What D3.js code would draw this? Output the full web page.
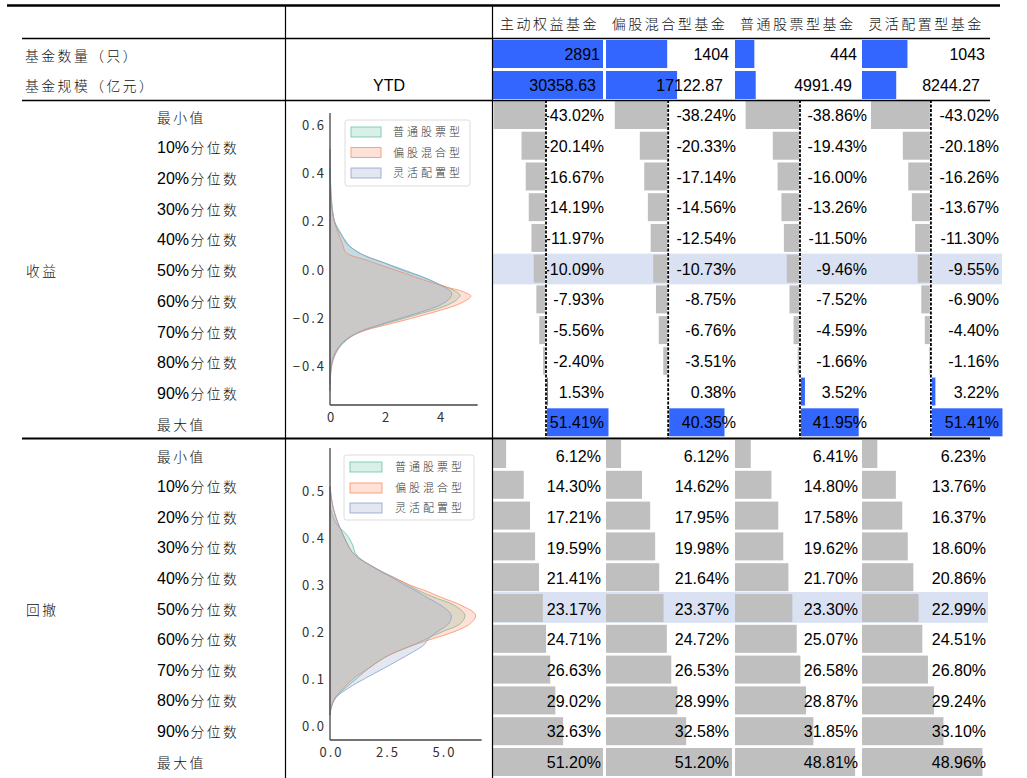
<!DOCTYPE html>
<html><head><meta charset="utf-8">
<script src="https://cdn.jsdelivr.net/npm/d3@7/dist/d3.min.js"></script>
<style>body{margin:0;background:#fff}svg{display:block}</style>
</head><body>
<svg id="c" width="1027" height="778"></svg>
<script>
// ---------------- DATA ----------------
const columns = ["主动权益基金", "偏股混合型基金", "普通股票型基金", "灵活配置型基金"];
const fundCount = [2891, 1404, 444, 1043];
const fundSize = [30358.63, 17122.87, 4991.49, 8244.27];
const statLabels = ["最小值", "10%分位数", "20%分位数", "30%分位数", "40%分位数", "50%分位数",
                    "60%分位数", "70%分位数", "80%分位数", "90%分位数", "最大值"];
const returnActive = [-43.02, -20.14, -16.67, -14.19, -11.97, -10.09, -7.93, -5.56, -2.40, 1.53, 51.41];
const returnMixed  = [-38.24, -20.33, -17.14, -14.56, -12.54, -10.73, -8.75, -6.76, -3.51, 0.38, 40.35];
const returnStock  = [-38.86, -19.43, -16.00, -13.26, -11.50, -9.46, -7.52, -4.59, -1.66, 3.52, 41.95];
const returnFlex   = [-43.02, -20.18, -16.26, -13.67, -11.30, -9.55, -6.90, -4.40, -1.16, 3.22, 51.41];
const ddActive = [6.12, 14.30, 17.21, 19.59, 21.41, 23.17, 24.71, 26.63, 29.02, 32.63, 51.20];
const ddMixed  = [6.12, 14.62, 17.95, 19.98, 21.64, 23.37, 24.72, 26.53, 28.99, 32.58, 51.20];
const ddStock  = [6.41, 14.80, 17.58, 19.62, 21.70, 23.30, 25.07, 26.58, 28.87, 31.85, 48.81];
const ddFlex   = [6.23, 13.76, 16.37, 18.60, 20.86, 22.99, 24.51, 26.80, 29.24, 33.10, 48.96];
const kdeNames = ["普通股票型", "偏股混合型", "灵活配置型"];
// density curves: [value, density]
const retKdeStock = [[0.42,0],[0.36,0.02],[0.30,0.05],[0.25,0.09],[0.20,0.17],[0.152,0.4],[0.11,0.6],[0.083,0.9],[0.055,1.33],[0.028,2.0],[0,2.6],[-0.028,3.33],[-0.055,3.88],[-0.083,4.48],[-0.104,4.73],[-0.124,4.6],[-0.152,4.12],[-0.179,3.33],[-0.207,2.48],[-0.235,1.64],[-0.262,0.97],[-0.29,0.55],[-0.331,0.24],[-0.373,0.08],[-0.428,0.02],[-0.47,0]];
const retKdeMixed = [[0.33,0],[0.25,0.08],[0.193,0.18],[0.152,0.3],[0.11,0.45],[0.076,0.55],[0.062,0.73],[0.041,1.33],[0.014,2.0],[-0.014,2.73],[-0.041,3.4],[-0.069,4.18],[-0.09,4.85],[-0.108,5.12],[-0.124,4.97],[-0.145,4.6],[-0.173,3.82],[-0.2,2.97],[-0.228,2.0],[-0.255,1.15],[-0.283,0.67],[-0.324,0.3],[-0.373,0.1],[-0.442,0.01],[-0.47,0]];
const retKdeFlex = [[0.5,0],[0.455,0.005],[0.36,0.02],[0.25,0.08],[0.193,0.18],[0.152,0.36],[0.124,0.55],[0.097,0.73],[0.069,1.09],[0.041,1.7],[0.014,2.36],[-0.014,3.03],[-0.041,3.64],[-0.069,4.12],[-0.094,4.42],[-0.117,4.36],[-0.145,4.0],[-0.173,3.33],[-0.2,2.55],[-0.228,1.76],[-0.255,1.09],[-0.29,0.6],[-0.331,0.28],[-0.386,0.08],[-0.455,0.01],[-0.5,0]];
const ddKdeStock = [[0.47,0],[0.45,0.1],[0.43,0.3],[0.407,0.75],[0.386,1.0],[0.368,1.12],[0.357,1.33],[0.343,1.78],[0.329,2.3],[0.315,2.9],[0.3,3.48],[0.287,4.0],[0.272,4.74],[0.258,5.48],[0.237,5.97],[0.219,5.78],[0.201,4.96],[0.187,4.3],[0.173,3.7],[0.159,2.96],[0.145,2.37],[0.123,1.7],[0.102,1.19],[0.081,0.67],[0.06,0.22],[0.038,0.04],[0.024,0]];
const ddKdeMixed = [[0.51,0],[0.47,0.12],[0.435,0.33],[0.414,0.52],[0.39,0.75],[0.372,0.96],[0.357,1.3],[0.343,1.78],[0.329,2.3],[0.315,2.9],[0.3,3.56],[0.287,4.3],[0.272,5.04],[0.258,5.78],[0.237,6.44],[0.219,6.22],[0.201,5.48],[0.187,4.59],[0.173,3.7],[0.159,2.96],[0.145,2.37],[0.123,1.7],[0.102,1.04],[0.081,0.59],[0.06,0.22],[0.038,0.04],[0.024,0]];
const ddKdeFlex = [[0.51,0],[0.47,0.12],[0.435,0.33],[0.414,0.52],[0.39,0.75],[0.372,0.96],[0.357,1.3],[0.343,1.75],[0.329,2.25],[0.315,2.8],[0.3,3.33],[0.287,3.85],[0.272,4.37],[0.258,4.89],[0.237,5.36],[0.219,5.26],[0.201,4.74],[0.187,4.37],[0.173,4.15],[0.159,3.7],[0.145,3.19],[0.123,2.37],[0.102,1.56],[0.081,0.81],[0.06,0.25],[0.038,0.05],[0.024,0]];
const retTicksY = [-0.4, -0.2, 0.0, 0.2, 0.4, 0.6];
const retTicksX = [0, 2, 4];
const ddTicksY = [0.0, 0.1, 0.2, 0.3, 0.4, 0.5];
const ddTicksX = [0.0, 2.5, 5.0];

// ---------------- LAYOUT / STYLE ----------------
const W = 1027, H = 778;
const CJK = "'Noto Sans CJK SC','Noto Sans',sans-serif";
const NUM = "'Liberation Sans',Arial,Helvetica,sans-serif";
const BLUE = "#3366ff", GRAY = "#bfbfbf", HIL = "#d9e1f2";
const kdeColors = ["#66c2a5", "#fc8d62", "#8da0cb"];
const colStart = [493, 606, 735, 862];
const colW = [110, 126, 126, 126];
const headX = [500, 611.7, 740, 868.3];
const countEnd = [600, 729, 857, 985];
const sizeEnd = [596, 723, 852, 980];
const retRange = [[493.7, 608.5], [614.8, 724.5], [745.6, 858.7], [871, 1002.5]];
const retEnd = [604, 736, 867, 999];
const ddEnd = [601, 729, 858, 986];
const retTop = 100, retRowH = 30.73;
const ddTop = 438, ddRowH = 30.8;

const svg = d3.select("#c");
svg.append("rect").attr("width", W).attr("height", H).attr("fill", "#fff");

function cjk(g, x, y, s, opts = {}) {
  return g.append("text").attr("x", x).attr("y", y)
    .attr("font-family", CJK).attr("font-size", opts.size || 13.8).attr("font-weight", 300)
    .attr("letter-spacing", opts.ls != null ? opts.ls : 2.5)
    .attr("fill", opts.fill || "#111").text(s);
}
function num(g, x, y, s, anchor = "end") {
  return g.append("text").attr("x", x).attr("y", y).attr("text-anchor", anchor)
    .attr("font-family", NUM).attr("font-size", 16).attr("fill", "#000").text(s);
}
function label(g, x, y, s) {
  const m = s.match(/^([0-9%]*)(.*)$/);
  const t = g.append("text").attr("x", x).attr("y", y).attr("fill", "#111");
  if (m[1]) t.append("tspan").attr("font-family", NUM).attr("font-size", 16).attr("fill", "#000").text(m[1]);
  t.append("tspan").attr("font-family", CJK).attr("font-size", 13.8).attr("font-weight", 300)
    .attr("letter-spacing", 2.5).attr("dx", m[1] ? 1.5 : 0).text(m[2]);
}

// ---------------- HEADER ----------------
columns.forEach((c, i) => cjk(svg, headX[i], 29, c, {size: 14}));
cjk(svg, 25, 61, "基金数量（只）");
cjk(svg, 25, 91, "基金规模（亿元）");
svg.append("text").attr("x", 389).attr("y", 91).attr("text-anchor", "middle")
  .attr("font-family", NUM).attr("font-size", 16).text("YTD");

// count and size rows
[[fundCount, 38, countEnd, v => String(v)], [fundSize, 69, sizeEnd, v => v.toFixed(2)]].forEach(([vals, top, ends, fmt]) => {
  const mx = d3.max(vals);
  vals.forEach((v, c) => {
    const x = d3.scaleLinear().domain([0, mx]).range([colStart[c], colStart[c] + colW[c]]);
    svg.append("rect").attr("x", x(0)).attr("y", top + 2).attr("width", x(v) - x(0)).attr("height", 28).attr("fill", BLUE);
    num(svg, ends[c], top + 22, fmt(v));
  });
});

// ---------------- RETURN SECTION ----------------
const retCols = [returnActive, returnMixed, returnStock, returnFlex];
svg.append("rect").attr("x", 493).attr("y", retTop + 5 * retRowH).attr("width", 1002 - 493)
  .attr("height", retRowH).attr("fill", HIL);
const retScales = retCols.map((vals, c) =>
  d3.scaleLinear().domain([d3.min(vals), d3.max(vals)]).range(retRange[c]));
retCols.forEach((vals, c) => {
  const x = retScales[c];
  vals.forEach((v, i) => {
    const y0 = retTop + i * retRowH + 1;
    svg.append("rect").attr("x", Math.min(x(0), x(v))).attr("y", y0)
      .attr("width", Math.abs(x(v) - x(0))).attr("height", 28)
      .attr("fill", v < 0 ? GRAY : BLUE);
  });
  vals.forEach((v, i) => num(svg, retEnd[c], retTop + i * retRowH + 21.1, v.toFixed(2) + "%"));
  svg.append("line").attr("x1", x(0)).attr("x2", x(0)).attr("y1", retTop).attr("y2", ddTop)
    .attr("stroke", "#fff").attr("stroke-width", 2);
  svg.append("line").attr("x1", x(0)).attr("x2", x(0)).attr("y1", retTop).attr("y2", ddTop)
    .attr("stroke", "#000").attr("stroke-width", 1.8).attr("stroke-dasharray", "3,1.5");
});
statLabels.forEach((s, i) => label(svg, 157, retTop + i * retRowH + 22.5, s));
cjk(svg, 26, retTop + 5 * retRowH + 22.5, "收益");

// ---------------- DRAWDOWN SECTION ----------------
const ddCols = [ddActive, ddMixed, ddStock, ddFlex];
svg.append("rect").attr("x", 493).attr("y", ddTop + 5 * ddRowH).attr("width", 988 - 493)
  .attr("height", ddRowH).attr("fill", HIL);
const ddMax = d3.max(ddCols.flat());
ddCols.forEach((vals, c) => {
  const x = d3.scaleLinear().domain([0, ddMax]).range([colStart[c], colStart[c] + colW[c]]);
  vals.forEach((v, i) => {
    svg.append("rect").attr("x", x(0)).attr("y", ddTop + i * ddRowH + 2)
      .attr("width", x(v) - x(0)).attr("height", 28).attr("fill", GRAY);
  });
  vals.forEach((v, i) => num(svg, ddEnd[c], 461.7 + i * 30.6, v.toFixed(2) + "%"));
});
statLabels.forEach((s, i) => label(svg, 157, 461.5 + i * 30.6, s));
cjk(svg, 26, 461.5 + 5 * 30.6, "回撤");

// ---------------- KDE PLOTS ----------------
function kdePlot(cfg) {
  const g = svg.append("g");
  const y = d3.scaleLinear().domain(cfg.yDom).range(cfg.yRange);
  const x = d3.scaleLinear().domain(cfg.xDom).range(cfg.xRange);
  const area = d3.area().curve(d3.curveCatmullRom.alpha(0.5))
    .y(p => y(p[0])).x0(x(0)).x1(p => x(p[1]));
  cfg.series.forEach((s, i) => {
    g.append("path").datum(s).attr("d", area)
      .attr("fill", kdeColors[i]).attr("fill-opacity", 0.25)
      .attr("stroke", kdeColors[i]).attr("stroke-opacity", 0.8).attr("stroke-width", 1);
  });
  g.append("line").attr("x1", x(0)).attr("x2", x(0)).attr("y1", y(cfg.ySpine[0])).attr("y2", y(cfg.ySpine[1]))
    .attr("stroke", "#444").attr("stroke-width", 1.3);
  g.append("line").attr("x1", x(0)).attr("x2", x(cfg.xSpineMax)).attr("y1", y(cfg.ySpine[0])).attr("y2", y(cfg.ySpine[0]))
    .attr("stroke", "#444").attr("stroke-width", 1.3);
  const fmtY = d => (d < 0 ? "−" : "") + Math.abs(d).toFixed(1);
  const ay = g.append("g").attr("transform", `translate(${x(0)},0)`)
    .call(d3.axisLeft(y).tickValues(cfg.yTicks).tickSize(0).tickPadding(4).tickFormat(fmtY));
  const ax = g.append("g").attr("transform", `translate(0,${y(cfg.ySpine[0])})`)
    .call(d3.axisBottom(x).tickValues(cfg.xTicks).tickSize(0).tickPadding(cfg.xPad).tickFormat(cfg.fmtX));
  [ay, ax].forEach(a => {
    a.select(".domain").remove();
    a.selectAll("text").attr("font-family", CJK).attr("font-size", 13)
      .attr("letter-spacing", 2).attr("fill", "#333");
  });
  ax.selectAll("text").attr("dx", 1);
  const L = cfg.legend;
  g.append("rect").attr("x", L.x).attr("y", L.y).attr("width", L.w).attr("height", L.h)
    .attr("rx", 2.5).attr("fill", "#fff").attr("fill-opacity", 0.85).attr("stroke", "#dcdcdc");
  kdeNames.forEach((n, i) => {
    const cy = L.rows[i];
    g.append("rect").attr("x", L.px).attr("y", cy - 5).attr("width", L.pw).attr("height", 10)
      .attr("fill", kdeColors[i]).attr("fill-opacity", 0.25)
      .attr("stroke", kdeColors[i]).attr("stroke-opacity", 0.8);
    g.append("text").attr("x", L.tx).attr("y", cy + 4).attr("font-family", CJK).attr("font-weight", 300)
      .attr("font-size", 11).attr("letter-spacing", 3).attr("fill", "#333").text(n);
  });
}

kdePlot({
  series: [retKdeStock, retKdeMixed, retKdeFlex],
  yDom: [0, 0.6], yRange: [270, 125], xDom: [0, 4], xRange: [330, 440],
  ySpine: [-0.5586, 0.6496], xSpineMax: 5.37,
  yTicks: retTicksY, xTicks: retTicksX, fmtX: d3.format("d"), xPad: 8,
  legend: {x: 345, y: 120, w: 125, h: 66, px: 351, pw: 30, tx: 393, rows: [132, 152.5, 173]}
});
kdePlot({
  series: [ddKdeStock, ddKdeMixed, ddKdeFlex],
  yDom: [0, 0.5], yRange: [726.3, 491.3], xDom: [0, 5], xRange: [330, 443],
  ySpine: [-0.0291, 0.5922], xSpineMax: 6.71,
  yTicks: ddTicksY, xTicks: ddTicksX, fmtX: d3.format(".1f"), xPad: 8,
  legend: {x: 344, y: 455, w: 130, h: 65, px: 350, pw: 32, tx: 395, rows: [467, 488, 508]}
});

// ---------------- TABLE LINES ----------------
svg.append("line").attr("x1", 7).attr("x2", 1000).attr("y1", 5.5).attr("y2", 5.5)
  .attr("stroke", "#000").attr("stroke-width", 2.6);
[[38.5, 1.4], [100.5, 1.4], [438.5, 1.8]].forEach(([yy, sw]) =>
  svg.append("line").attr("x1", 22).attr("x2", 990).attr("y1", yy).attr("y2", yy)
    .attr("stroke", "#000").attr("stroke-width", sw));
[285.5, 492.5].forEach(xx =>
  svg.append("line").attr("x1", xx).attr("x2", xx).attr("y1", 6).attr("y2", H)
    .attr("stroke", "#000").attr("stroke-width", 1.2));
</script>
</body></html>
